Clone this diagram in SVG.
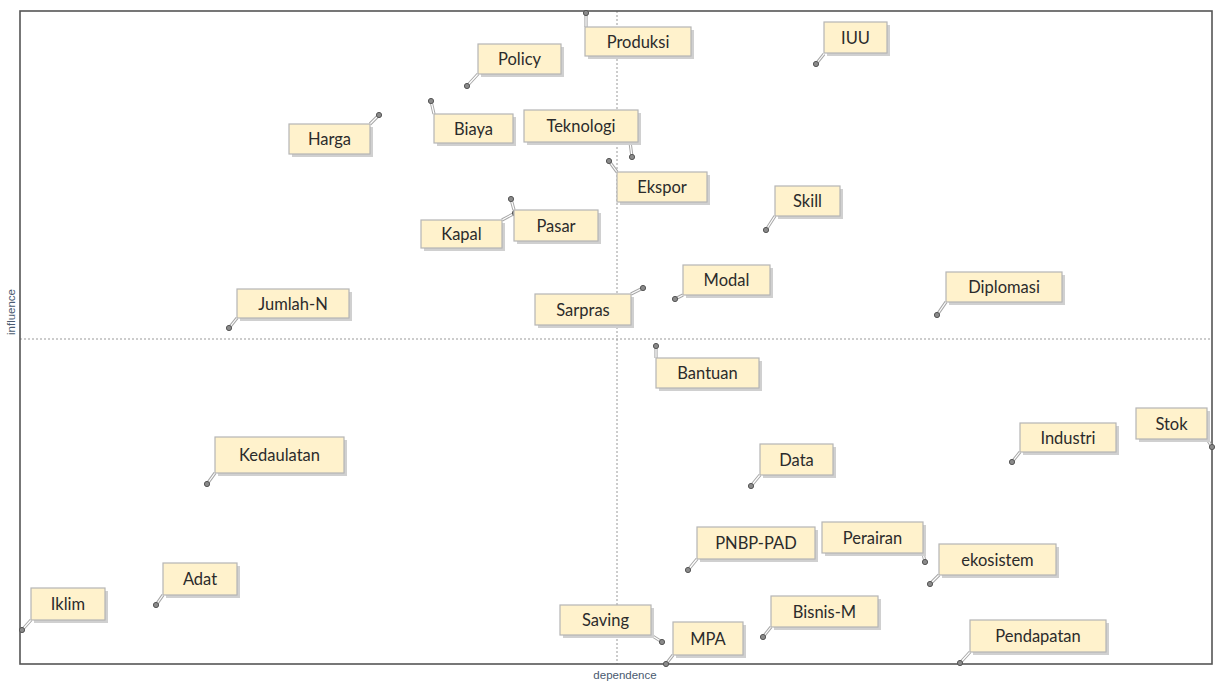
<svg xmlns="http://www.w3.org/2000/svg" width="1215" height="682" viewBox="0 0 1215 682">
  <style>
    .frame { fill: none; stroke: #555; stroke-width: 1.6; }
    .axis { stroke: #999; stroke-width: 1; stroke-dasharray: 2 2; }
    .shadow { fill: #d0d0d0; }
    .box { fill: #fff2cc; stroke: #b5b5b5; stroke-width: 1.2; }
    .lbl { font-family: Lato, "Open Sans", sans-serif; font-size: 16.5px; fill: #2b2b2b; text-anchor: middle; dominant-baseline: central; }
    .lead-o { stroke: #a8a8a8; stroke-width: 3.2; fill: none; }
    .lead-i { stroke: #fff; stroke-width: 1.2; fill: none; }
    .pt { fill: #8a8a8a; stroke: #555; stroke-width: 1; }
    .axlbl { font-family: "Liberation Sans", Arial, sans-serif; font-size: 11.5px; fill: #4a5a70; text-anchor: middle; }
  </style>

  <rect width="1215" height="682" fill="#fff"/>

  <!-- quadrant dividers -->
  <line class="axis" x1="617" y1="11" x2="617" y2="664"/>
  <line class="axis" x1="20" y1="339" x2="1212" y2="339"/>

  <!-- plot frame -->
  <rect class="frame" x="20" y="11" width="1192" height="653"/>

  <text class="axlbl" x="625" y="679">dependence</text>
  <text class="axlbl" transform="translate(15,312) rotate(-90)">influence</text>

  <!-- leader lines from points to labels -->
  <g id="connectors">
    <path class="lead-o" d="M586,13 L586,27 M467,86 L478,74 M816,64 L824,54 M379,115 L370,124 M431,101 L434,114 M632,157 L630,142 M609,161 L617,172 M766,230 L775,216 M511,199 L514,210 M515,213 L502,220 M229,328 L237,318 M643,288 L631,294 M675,299 L683,295 M937,315 L946,302 M656,346 L656,358 M1212,447 L1207,439 M1012,462 L1020,452 M207,484 L215,473 M751,486 L760,475 M688,570 L697,559 M925,562 L923,553 M930,584 L939,575 M156,605 L163,595 M22,630 L31,620 M662,642 L651,635 M666,664 L673,655 M763,637 L771,627 M960,663 L970,652"/>
    <path class="lead-i" d="M586,13 L586,27 M467,86 L478,74 M816,64 L824,54 M379,115 L370,124 M431,101 L434,114 M632,157 L630,142 M609,161 L617,172 M766,230 L775,216 M511,199 L514,210 M515,213 L502,220 M229,328 L237,318 M643,288 L631,294 M675,299 L683,295 M937,315 L946,302 M656,346 L656,358 M1212,447 L1207,439 M1012,462 L1020,452 M207,484 L215,473 M751,486 L760,475 M688,570 L697,559 M925,562 L923,553 M930,584 L939,575 M156,605 L163,595 M22,630 L31,620 M662,642 L651,635 M666,664 L673,655 M763,637 L771,627 M960,663 L970,652"/>
  </g>

  <defs>
    <circle id="dot" class="pt" r="2.6"/>
  </defs>

  <g id="produksi"><use href="#dot" x="586" y="13"/><rect class="shadow" x="588" y="30" width="106" height="29"/><rect class="box" x="585" y="27" width="106" height="29"/><text class="lbl" x="638" y="42">Produksi</text></g>
  <g id="policy"><use href="#dot" x="467" y="86"/><rect class="shadow" x="481" y="47" width="83" height="30"/><rect class="box" x="478" y="44" width="83" height="30"/><text class="lbl" x="519.5" y="59">Policy</text></g>
  <g id="iuu"><use href="#dot" x="816" y="64"/><rect class="shadow" x="827" y="25" width="63" height="31"/><rect class="box" x="824" y="22" width="63" height="31"/><text class="lbl" x="855.5" y="37.5">IUU</text></g>
  <g id="harga"><use href="#dot" x="379" y="115"/><rect class="shadow" x="292" y="127" width="81" height="30"/><rect class="box" x="289" y="124" width="81" height="30"/><text class="lbl" x="329.5" y="139">Harga</text></g>
  <g id="biaya"><use href="#dot" x="431" y="101"/><rect class="shadow" x="437" y="117" width="79" height="29"/><rect class="box" x="434" y="114" width="79" height="29"/><text class="lbl" x="473.5" y="128.5">Biaya</text></g>
  <g id="teknologi"><use href="#dot" x="632" y="157"/><rect class="shadow" x="527" y="113" width="114" height="32"/><rect class="box" x="524" y="110" width="114" height="32"/><text class="lbl" x="581" y="126">Teknologi</text></g>
  <g id="ekspor"><use href="#dot" x="609" y="161"/><rect class="shadow" x="620" y="175" width="90" height="30"/><rect class="box" x="617" y="172" width="90" height="30"/><text class="lbl" x="662" y="187">Ekspor</text></g>
  <g id="skill"><use href="#dot" x="766" y="230"/><rect class="shadow" x="778" y="189" width="65" height="30"/><rect class="box" x="775" y="186" width="65" height="30"/><text class="lbl" x="807.5" y="201">Skill</text></g>
  <g id="kapal"><use href="#dot" x="515" y="213"/><rect class="shadow" x="424" y="223" width="81" height="28"/><rect class="box" x="421" y="220" width="81" height="28"/><text class="lbl" x="461.5" y="234">Kapal</text></g>
  <g id="pasar"><use href="#dot" x="511" y="199"/><rect class="shadow" x="517" y="213" width="84" height="31"/><rect class="box" x="514" y="210" width="84" height="31"/><text class="lbl" x="556" y="225.5">Pasar</text></g>
  <g id="jumlah-n"><use href="#dot" x="229" y="328"/><rect class="shadow" x="240" y="292" width="112" height="29"/><rect class="box" x="237" y="289" width="112" height="29"/><text class="lbl" x="293" y="303.5">Jumlah-N</text></g>
  <g id="sarpras"><use href="#dot" x="643" y="288"/><rect class="shadow" x="538" y="297" width="96" height="31"/><rect class="box" x="535" y="294" width="96" height="31"/><text class="lbl" x="583" y="309.5">Sarpras</text></g>
  <g id="modal"><use href="#dot" x="675" y="299"/><rect class="shadow" x="686" y="268" width="87" height="30"/><rect class="box" x="683" y="265" width="87" height="30"/><text class="lbl" x="726.5" y="280">Modal</text></g>
  <g id="diplomasi"><use href="#dot" x="937" y="315"/><rect class="shadow" x="949" y="275" width="116" height="30"/><rect class="box" x="946" y="272" width="116" height="30"/><text class="lbl" x="1004" y="287">Diplomasi</text></g>
  <g id="bantuan"><use href="#dot" x="656" y="346"/><rect class="shadow" x="659" y="361" width="103" height="30"/><rect class="box" x="656" y="358" width="103" height="30"/><text class="lbl" x="707.5" y="373">Bantuan</text></g>
  <g id="stok"><use href="#dot" x="1212" y="447"/><rect class="shadow" x="1139" y="411" width="71" height="31"/><rect class="box" x="1136" y="408" width="71" height="31"/><text class="lbl" x="1171.5" y="423.5">Stok</text></g>
  <g id="industri"><use href="#dot" x="1012" y="462"/><rect class="shadow" x="1023" y="426" width="96" height="29"/><rect class="box" x="1020" y="423" width="96" height="29"/><text class="lbl" x="1068" y="437.5">Industri</text></g>
  <g id="kedaulatan"><use href="#dot" x="207" y="484"/><rect class="shadow" x="218" y="440" width="129" height="36"/><rect class="box" x="215" y="437" width="129" height="36"/><text class="lbl" x="279.5" y="455">Kedaulatan</text></g>
  <g id="data"><use href="#dot" x="751" y="486"/><rect class="shadow" x="763" y="447" width="73" height="31"/><rect class="box" x="760" y="444" width="73" height="31"/><text class="lbl" x="796.5" y="459.5">Data</text></g>
  <g id="pnbp-pad"><use href="#dot" x="688" y="570"/><rect class="shadow" x="700" y="530" width="118" height="32"/><rect class="box" x="697" y="527" width="118" height="32"/><text class="lbl" x="756" y="543">PNBP-PAD</text></g>
  <g id="perairan"><use href="#dot" x="925" y="562"/><rect class="shadow" x="825" y="525" width="101" height="31"/><rect class="box" x="822" y="522" width="101" height="31"/><text class="lbl" x="872.5" y="537.5">Perairan</text></g>
  <g id="ekosistem"><use href="#dot" x="930" y="584"/><rect class="shadow" x="942" y="547" width="117" height="31"/><rect class="box" x="939" y="544" width="117" height="31"/><text class="lbl" x="997.5" y="559.5">ekosistem</text></g>
  <g id="adat"><use href="#dot" x="156" y="605"/><rect class="shadow" x="166" y="566" width="74" height="32"/><rect class="box" x="163" y="563" width="74" height="32"/><text class="lbl" x="200" y="579">Adat</text></g>
  <g id="iklim"><use href="#dot" x="22" y="630"/><rect class="shadow" x="34" y="591" width="74" height="32"/><rect class="box" x="31" y="588" width="74" height="32"/><text class="lbl" x="68" y="604">Iklim</text></g>
  <g id="saving"><use href="#dot" x="662" y="642"/><rect class="shadow" x="563" y="608" width="91" height="30"/><rect class="box" x="560" y="605" width="91" height="30"/><text class="lbl" x="605.5" y="620">Saving</text></g>
  <g id="mpa"><use href="#dot" x="666" y="664"/><rect class="shadow" x="676" y="625" width="70" height="33"/><rect class="box" x="673" y="622" width="70" height="33"/><text class="lbl" x="708" y="638.5">MPA</text></g>
  <g id="bisnis-m"><use href="#dot" x="763" y="637"/><rect class="shadow" x="774" y="599" width="107" height="31"/><rect class="box" x="771" y="596" width="107" height="31"/><text class="lbl" x="824.5" y="611.5">Bisnis-M</text></g>
  <g id="pendapatan"><use href="#dot" x="960" y="663"/><rect class="shadow" x="973" y="623" width="136" height="32"/><rect class="box" x="970" y="620" width="136" height="32"/><text class="lbl" x="1038" y="636">Pendapatan</text></g>
</svg>
